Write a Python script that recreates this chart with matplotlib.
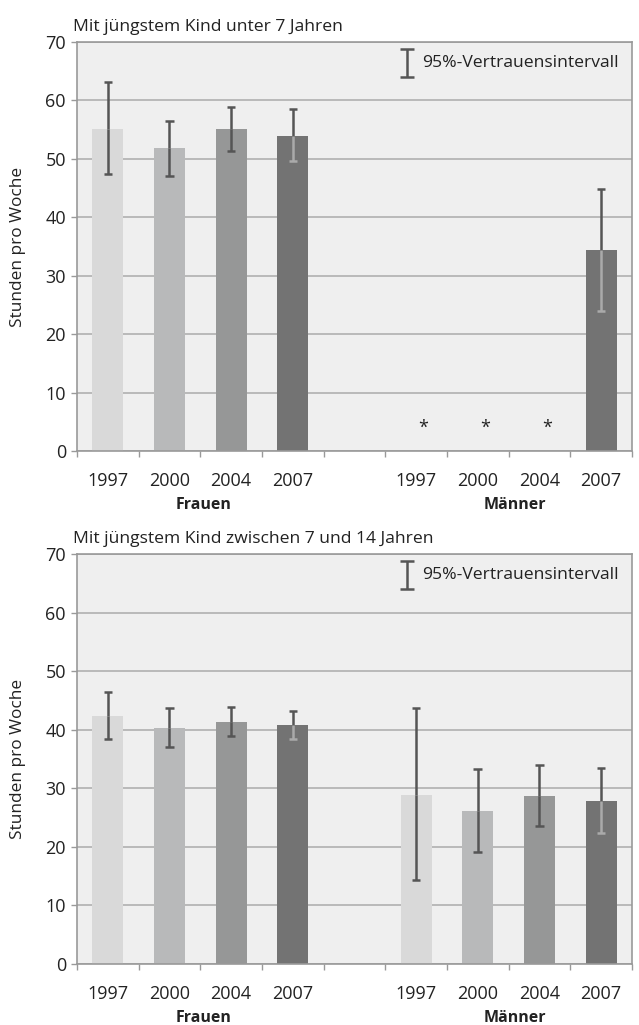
import numpy as np
import matplotlib.pyplot as plt

plt.rcParams['font.family'] = ['Open Sans', 'DejaVu Sans']

years = ['1997', '2000', '2004', '2007']
groups = ['Frauen', 'Männer']
bar_colors = ['#d9d9d9', '#b8b9ba', '#969797', '#737373']

# top panel: youngest child under 7 (NaN = no value, marked with *)
top_title = 'Mit jüngstem Kind unter 7 Jahren'
top_frauen = [55.1, 51.9, 55.1, 54.0]
top_frauen_lo = [47.4, 47.1, 51.4, 49.6]
top_frauen_hi = [63.1, 56.4, 58.8, 58.6]
top_maenner = [np.nan, np.nan, np.nan, 34.4]
top_maenner_lo = [np.nan, np.nan, np.nan, 24.0]
top_maenner_hi = [np.nan, np.nan, np.nan, 44.8]

# bottom panel: youngest child between 7 and 14
bot_title = 'Mit jüngstem Kind zwischen 7 und 14 Jahren'
bot_frauen = [42.4, 40.3, 41.4, 40.8]
bot_frauen_lo = [38.4, 37.0, 39.0, 38.4]
bot_frauen_hi = [46.4, 43.7, 43.9, 43.2]
bot_maenner = [28.9, 26.2, 28.7, 27.9]
bot_maenner_lo = [14.4, 19.2, 23.6, 22.4]
bot_maenner_hi = [43.7, 33.3, 34.0, 33.5]

ylabel = 'Stunden pro Woche'
legend_text = '95%-Vertrauensintervall'


def draw_panel(ax, title, f, f_lo, f_hi, m, m_lo, m_hi):
    ax.set_facecolor('#efefef')
    pos_f = np.arange(4)
    pos_m = np.arange(4) + 5
    for pos, vals, lo, hi in [(pos_f, f, f_lo, f_hi), (pos_m, m, m_lo, m_hi)]:
        for i in range(4):
            x, v = pos[i], vals[i]
            if np.isnan(v):
                ax.text(x + 0.12, 4, '*', ha='center', va='center', fontsize=13, color='#222222')
                continue
            ax.bar(x, v, width=0.5, color=bar_colors[i], zorder=2)
            # darkest bar: lower half of the whisker drawn light for contrast
            lo_col = '#aaaaaa' if i == 3 else '#555555'
            ax.vlines(x, v, hi[i], color='#555555', lw=1.8, zorder=3)
            ax.vlines(x, lo[i], v, color=lo_col, lw=1.8, zorder=3)
            ax.hlines(hi[i], x - 0.07, x + 0.07, color='#555555', lw=1.8, zorder=3)
            ax.hlines(lo[i], x - 0.07, x + 0.07, color=lo_col, lw=1.8, zorder=3)

    ax.set_xlim(-0.5, 8.5)
    ax.set_ylim(0, 70)
    ax.set_yticks(np.arange(0, 71, 10))
    ax.yaxis.grid(True, color='#b0b0b0', lw=1.2, zorder=0)
    ax.set_axisbelow(True)

    ax.set_xticks(np.arange(-0.5, 9, 1))
    ax.set_xticklabels([])
    ax.set_xticks(list(pos_f) + list(pos_m), minor=True)
    ax.set_xticklabels(years + years, minor=True)
    ax.tick_params(axis='x', which='major', length=4, color='#999999', width=1)
    ax.tick_params(axis='x', which='minor', length=0, pad=15, labelsize=13, labelcolor='#222222')
    ax.tick_params(axis='y', length=4, color='#999999', width=1, labelsize=13, labelcolor='#222222', pad=4)
    for s in ax.spines.values():
        s.set_color('#999999')
        s.set_linewidth(1.2)

    ax.text(1.55, -0.132, groups[0], transform=ax.get_xaxis_transform(), ha='center', va='center',
            fontsize=11.5, fontweight='bold', color='#222222')
    ax.text(6.6, -0.132, groups[1], transform=ax.get_xaxis_transform(), ha='center', va='center',
            fontsize=11.5, fontweight='bold', color='#222222')
    ax.set_ylabel(ylabel, fontsize=12.4, color='#222222', labelpad=14)
    ax.text(-0.008, 1.018, title, transform=ax.transAxes, ha='left', va='bottom',
            fontsize=12.6, color='#222222')

    # legend symbol
    ax.errorbar([0.595], [0.949], yerr=[0.034], transform=ax.transAxes, fmt='none',
                ecolor='#555555', elinewidth=1.8, capsize=5, capthick=1.8, zorder=4)
    ax.text(0.622, 0.949, legend_text, transform=ax.transAxes, ha='left', va='center',
            fontsize=12.6, color='#222222')


fig = plt.figure(figsize=(6.39, 10.25), dpi=100)
ax1 = fig.add_axes([0.1205, 0.560, 0.8685, 0.399])
ax2 = fig.add_axes([0.1205, 0.0595, 0.8685, 0.400])

draw_panel(ax1, top_title, top_frauen, top_frauen_lo, top_frauen_hi,
           top_maenner, top_maenner_lo, top_maenner_hi)
draw_panel(ax2, bot_title, bot_frauen, bot_frauen_lo, bot_frauen_hi,
           bot_maenner, bot_maenner_lo, bot_maenner_hi)

fig.savefig('out.png', dpi=100, facecolor='white')
